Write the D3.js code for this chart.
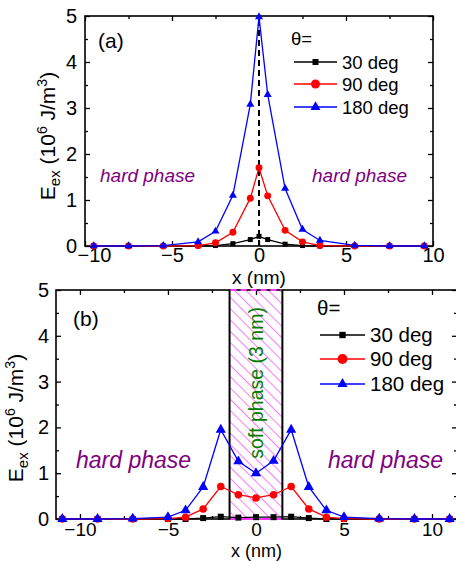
<!DOCTYPE html>
<html>
<head>
<meta charset="utf-8">
<script src="https://cdn.jsdelivr.net/npm/d3@7"></script>
<style>
  body { margin: 0; background: #fff; }
  svg { font-family: Arial, "Liberation Sans", sans-serif; }
  .axis path { display: none; }
  .axis line { stroke: #000; stroke-width: 1.3; }
</style>
</head>
<body>
<script>
// panel (a) data
var xA = [-9.5, -7.5, -5.5, -3.5, -2.5, -1.5, -0.5, 0, 0.5, 1.5, 2.5, 3.5, 5.5, 7.5, 9.5];
var a30 = [0, 0, 0, 0, 0.01, 0.05, 0.14, 0.21, 0.14, 0.04, 0.01, 0, 0, 0, 0];
var a90 = [0, 0, 0, 0.01, 0.07, 0.30, 1.04, 1.70, 1.09, 0.34, 0.09, 0.01, 0, 0, 0];
var a180 = [0, 0, 0.01, 0.09, 0.32, 1.10, 3.08, 4.98, 3.29, 1.25, 0.36, 0.12, 0.015, 0, 0];

// panel (b) data
var xB = [-11, -9, -7, -5, -4, -3, -2, -1, 0, 1, 2, 3, 4, 5, 7, 9, 11];
var b30 = [0, 0, 0, 0, 0, 0.02, 0.05, 0.03, 0.04, 0.04, 0.05, 0.02, 0, 0, 0, 0, 0];
var b90 = [0, 0, 0, 0.01, 0.04, 0.22, 0.71, 0.53, 0.46, 0.53, 0.71, 0.22, 0.04, 0.01, 0, 0, 0];
var b180 = [0, 0, 0.01, 0.04, 0.19, 0.70, 1.95, 1.26, 1.00, 1.27, 1.95, 0.70, 0.19, 0.04, 0.01, 0, 0];

var seriesNames = ["30 deg", "90 deg", "180 deg"];
var seriesColors = ["#000000", "#ff0000", "#0000ff"];
var seriesShapes = [d3.symbolSquare, d3.symbolCircle, d3.symbolTriangle];
var xTicks = [-10, -5, 0, 5, 10];
var yTicks = [0, 1, 2, 3, 4, 5];

var svg = d3.select("body").append("svg")
  .attr("width", 456)
  .attr("height", 561);

var defs = svg.append("defs");
var pat = defs.append("pattern")
  .attr("id", "hatch")
  .attr("patternUnits", "userSpaceOnUse")
  .attr("width", 8).attr("height", 8)
  .attr("patternTransform", "rotate(-45)");
pat.append("line")
  .attr("x1", 0).attr("y1", 0).attr("x2", 0).attr("y2", 8)
  .attr("stroke", "#ff33ff").attr("stroke-width", 1.3);

function drawPanel(p) {
  var x = d3.scaleLinear().domain(p.xDomain).range([p.left, p.right]);
  var y = d3.scaleLinear().domain([0, 5]).range([p.bottom, p.top]);
  var g = svg.append("g");

  // soft phase band (panel b only)
  if (p.band) {
    g.append("rect")
      .attr("x", x(p.band[0])).attr("y", y(5))
      .attr("width", x(p.band[1]) - x(p.band[0]))
      .attr("height", y(0) - y(5))
      .attr("fill", "url(#hatch)");
  }

  // axes, ticks pointing inward
  var bx = g.append("g").attr("class", "axis")
    .attr("transform", "translate(0," + p.bottom + ")")
    .call(d3.axisBottom(x).tickValues(xTicks).tickSize(-5).tickPadding(p.xPad).tickFormat(d3.format("d")));
  bx.selectAll("text").attr("font-size", p.xTickFont).attr("fill", "#000")
    .attr("dx", function(d) { return d == -10 ? p.firstShift : 0; });
  g.append("g").attr("class", "axis")
    .attr("transform", "translate(0," + p.bottom + ")")
    .call(d3.axisBottom(x).tickValues([-7.5, -2.5, 2.5, 7.5]).tickSize(-3).tickFormat(""));
  g.append("g").attr("class", "axis")
    .attr("transform", "translate(0," + p.top + ")")
    .call(d3.axisTop(x).tickValues(xTicks).tickSize(-5).tickFormat(""));
  g.append("g").attr("class", "axis")
    .attr("transform", "translate(0," + p.top + ")")
    .call(d3.axisTop(x).tickValues([-7.5, -2.5, 2.5, 7.5]).tickSize(-3).tickFormat(""));
  g.append("g").attr("class", "axis")
    .attr("transform", "translate(" + p.left + ",0)")
    .call(d3.axisLeft(y).tickValues(yTicks).tickSize(-5).tickPadding(p.yPad).tickFormat(d3.format("d")))
    .selectAll("text").attr("font-size", 20).attr("fill", "#000");
  g.append("g").attr("class", "axis")
    .attr("transform", "translate(" + p.left + ",0)")
    .call(d3.axisLeft(y).tickValues([0.5, 1.5, 2.5, 3.5, 4.5]).tickSize(-3).tickFormat(""));
  g.append("g").attr("class", "axis")
    .attr("transform", "translate(" + p.right + ",0)")
    .call(d3.axisRight(y).tickValues(yTicks).tickSize(-5).tickFormat(""));
  g.append("g").attr("class", "axis")
    .attr("transform", "translate(" + p.right + ",0)")
    .call(d3.axisRight(y).tickValues([0.5, 1.5, 2.5, 3.5, 4.5]).tickSize(-3).tickFormat(""));

  // frame
  g.append("rect")
    .attr("x", p.left).attr("y", p.top)
    .attr("width", p.right - p.left).attr("height", p.bottom - p.top)
    .attr("fill", "none").attr("stroke", "#000").attr("stroke-width", 1.6);

  if (p.band) {
    [p.band[0], p.band[1]].forEach(function(v) {
      g.append("line")
        .attr("x1", x(v)).attr("x2", x(v)).attr("y1", y(0)).attr("y2", y(5))
        .attr("stroke", "#000").attr("stroke-width", 2);
    });
    [y(5), y(0)].forEach(function(yy, i) {
      g.append("line")
        .attr("x1", x(p.band[0]) + 1).attr("x2", x(p.band[1]) - 1)
        .attr("y1", yy).attr("y2", yy)
        .attr("stroke", "#ff33ff").attr("stroke-width", 2)
        .attr("stroke-dasharray", i == 0 ? "6,4" : null);
    });
    g.append("text")
      .attr("transform", "translate(" + (x(0) + 7) + "," + p.softY + ") rotate(-90)")
      .attr("text-anchor", "middle")
      .attr("font-size", 19.5)
      .attr("fill", "#008000")
      .text("soft phase (3 nm)");
  }

  // dashed center line (panel a)
  if (p.dashed) {
    g.append("line")
      .attr("x1", x(0)).attr("x2", x(0)).attr("y1", y(0)).attr("y2", y(5))
      .attr("stroke", "#000").attr("stroke-width", 2)
      .attr("stroke-dasharray", "6,4");
  }

  // series
  var line = d3.line()
    .x(function(d) { return x(d[0]); })
    .y(function(d) { return y(d[1]); });

  p.series.forEach(function(vals, i) {
    var pts = p.xs.map(function(v, j) { return [v, vals[j]]; });
    g.append("path")
      .datum(pts)
      .attr("d", line)
      .attr("fill", "none")
      .attr("stroke", seriesColors[i])
      .attr("stroke-width", 1.3);
    g.selectAll(null)
      .data(pts)
      .enter()
      .append("path")
      .attr("transform", function(d) { return "translate(" + x(d[0]) + "," + y(d[1]) + ")"; })
      .attr("d", d3.symbol().type(seriesShapes[i]).size(p.markSize[i]))
      .attr("fill", seriesColors[i]);
  });

  // labels
  g.append("text")
    .attr("x", p.tagX).attr("y", p.tagY)
    .attr("font-size", 21)
    .text(p.tag);

  g.append("text")
    .attr("x", (p.left + p.right) / 2 + p.xLabelShift).attr("y", p.xLabelY)
    .attr("text-anchor", "middle")
    .attr("font-size", p.xLabelFont)
    .text("x (nm)");

  var yl = g.append("text")
    .attr("transform", "translate(" + p.yLabelX + "," + p.yLabelY + ") rotate(-90)")
    .attr("text-anchor", "middle")
    .attr("font-size", 21);
  yl.append("tspan").text("E");
  yl.append("tspan").attr("font-size", 15).attr("dy", 5).text("ex");
  yl.append("tspan").attr("dy", -5).text(" (10");
  yl.append("tspan").attr("font-size", 14).attr("dy", -8).text("6");
  yl.append("tspan").attr("dy", 8).text(" J/m");
  yl.append("tspan").attr("font-size", 14).attr("dy", -8).text("3");
  yl.append("tspan").attr("dy", 8).text(")");

  p.hard.forEach(function(hx) {
    g.append("text")
      .attr("x", hx).attr("y", p.hardY)
      .attr("font-size", p.hardSize)
      .attr("font-style", "italic")
      .attr("fill", "#800080")
      .text("hard phase");
  });

  // legend
  g.append("text")
    .attr("x", p.legX).attr("y", p.legThetaY)
    .attr("font-size", p.legFont)
    .text("\u03b8=");
  seriesNames.forEach(function(name, i) {
    var ly = p.legRows[i];
    g.append("line")
      .attr("x1", p.legX + 3).attr("x2", p.legX + 3 + p.legLen)
      .attr("y1", ly).attr("y2", ly)
      .attr("stroke", seriesColors[i]).attr("stroke-width", 1.3);
    g.append("path")
      .attr("transform", "translate(" + (p.legX + 3 + p.legLen / 2) + "," + ly + ")")
      .attr("d", d3.symbol().type(seriesShapes[i]).size(p.legMark[i]))
      .attr("fill", seriesColors[i]);
    g.append("text")
      .attr("x", p.legX + p.legLen + 8).attr("y", ly + p.legFont * 0.36)
      .attr("font-size", p.legFont)
      .text(name);
  });
}

drawPanel({
  xDomain: [-10, 10], left: 85, right: 433, top: 16, bottom: 246,
  xPad: 2, yPad: 8, firstShift: 9, xTickFont: 20,
  xs: xA, series: [a30, a90, a180], markSize: [25, 38, 28],
  dashed: true,
  tag: "(a)", tagX: 98, tagY: 48,
  xLabelY: 284, xLabelShift: 0, xLabelFont: 19,
  yLabelX: 55, yLabelY: 136,
  hard: [100, 312], hardY: 182, hardSize: 19,
  legX: 291, legThetaY: 45, legLen: 43, legRows: [62, 84, 107], legFont: 18.5,
  legMark: [36, 64, 43]
});

drawPanel({
  xDomain: [-11.36, 11.42], left: 56, right: 457, top: 290, bottom: 519,
  xPad: 3, yPad: 7, firstShift: 0, xTickFont: 19,
  xs: xB, series: [b30, b90, b180], markSize: [36, 45, 45],
  band: [-1.5, 1.5], softY: 383,
  tag: "(b)", tagX: 73, tagY: 326,
  xLabelY: 557, xLabelShift: 0, xLabelFont: 18,
  yLabelX: 23, yLabelY: 418,
  hard: [76, 328], hardY: 468, hardSize: 23,
  legX: 317, legThetaY: 315, legLen: 45, legRows: [335, 359, 384], legFont: 20.5,
  legMark: [40, 78, 45]
});
</script>
</body>
</html>
